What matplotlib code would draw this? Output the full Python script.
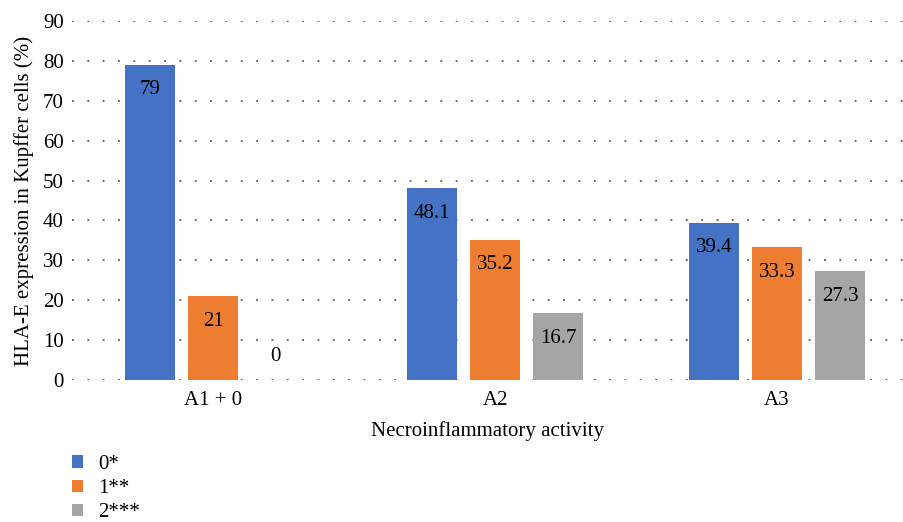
import numpy as np
import matplotlib
matplotlib.use('Agg')
import matplotlib.pyplot as plt

matplotlib.rcParams.update({
    'font.family': 'Liberation Serif',
    'font.size': 15,
})

categories = ['A1 + 0', 'A2', 'A3']
series_names = ['0*', '1**', '2***']
values = [
    [79, 48.1, 39.4],   # 0*
    [21, 35.2, 33.3],   # 1**
    [0, 16.7, 27.3],    # 2***
]
colors = ['#4472C4', '#ED7D31', '#A5A5A5']

fig = plt.figure(figsize=(9.04, 5.22), dpi=100)
ax = fig.add_axes([72/904, 142/522, 832/904, 359/522])

x = np.arange(len(categories))
width = 0.177
step = 0.223

for i, (name, vals) in enumerate(zip(series_names, values)):
    pos = x + (i - 1) * step
    ax.bar(pos, vals, width, color=colors[i], label=name, zorder=2)
    for px, v in zip(pos, vals):
        if v == 0:
            off = 17
        else:
            off = -18
        ax.annotate(f'{v:g}', (px, v), xytext=(0, off), textcoords='offset points',
                    ha='center', va='center', fontsize=15, zorder=3)

ax.set_xlim(-0.5, 2.45)
ax.set_ylim(0, 90)
ax.set_yticks(range(0, 91, 10))
ax.set_xticks(x)
ax.set_xticklabels(categories)
ax.tick_params(length=0)
ax.tick_params(axis='y', pad=6)
ax.tick_params(axis='x', pad=8)
for s in ax.spines.values():
    s.set_visible(False)
ax.yaxis.grid(True, color='#595959', linestyle=(0, (1, 7.5)), linewidth=1.3, zorder=1)
ax.set_axisbelow(True)

ax.set_xlabel('Necroinflammatory activity', labelpad=8)
ax.set_ylabel('HLA-E expression in Kupffer cells (%)', labelpad=6)

fig.legend(loc='upper left', bbox_to_anchor=(72/904, 1 - 455/522), frameon=False,
           handlelength=0.55, handleheight=0.55, labelspacing=0.25, handletextpad=0.7,
           borderaxespad=0, borderpad=0)

fig.savefig('out.png', dpi=100)
